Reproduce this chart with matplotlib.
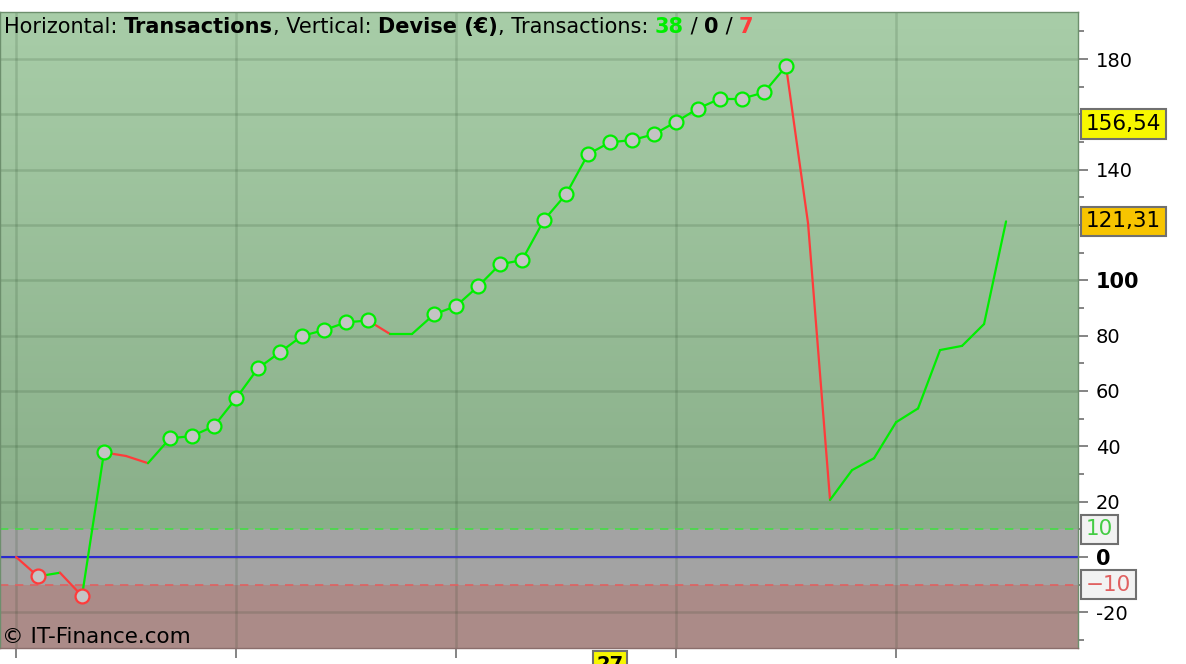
import numpy as np
import matplotlib.pyplot as plt
from matplotlib import transforms

# equity curve of the transactions (EUR)
trade_no = np.arange(0, 46)
equity = [0, -7.0, -5.7, -14.1, 37.8, 36.5, 33.9, 42.9, 43.7, 47.3,
          57.3, 68.2, 74.0, 79.9, 82.0, 84.8, 85.5, 80.6, 80.6, 87.7,
          90.7, 97.8, 105.8, 107.3, 121.8, 131.1, 145.6, 149.9, 150.7, 152.8,
          157.3, 162.1, 165.7, 165.7, 167.9, 177.4, 120.6, 20.6, 31.4, 35.7,
          48.7, 53.7, 74.8, 76.3, 84.2, 121.31]
# trades drawn with a circle marker
marked = [1, 3, 4, 7, 8, 9, 10, 11, 12, 13, 14, 15, 16,
          19, 20, 21, 22, 23, 24, 25, 26, 27, 28, 29, 30, 31, 32, 33, 34, 35]

n_win, n_even, n_loss = 38, 0, 7
level_avg = 156.54
level_last = 121.31
x_marker = 27
upper_band, lower_band = 10, -10

ytick_vals = np.arange(-20, 200, 20)
ytick_labels = ['-20', '0', '20', '40', '60', '80', '100', '', '140', '', '180']

green = '#00ee00'
red = '#ff3b3b'

fig = plt.figure(figsize=(11.86, 6.64), dpi=100)
ax = fig.add_axes([0, 16.3/664, 1078/1186, 635.7/664])

xmin, xmax = -0.727, 48.27
ymin, ymax = -32.8, 197
ax.set_xlim(xmin, xmax)
ax.set_ylim(ymin, ymax)

# background zones
top_c = np.array([168, 205, 168]) / 255
bot_c = np.array([137, 175, 137]) / 255
t = np.linspace(0, 1, 256)[:, None]
grad = (top_c * (1 - t) + bot_c * t)[:, None, :]
ax.imshow(grad, extent=(xmin, xmax, upper_band, ymax), aspect='auto', zorder=0)
ax.axhspan(lower_band, upper_band, color='#a3a3a3', zorder=0, lw=0)
ax.axhspan(ymin, lower_band, color='#ab8b88', zorder=0, lw=0)

# grid
for gx in range(0, 50, 10):
    ax.axvline(gx, color='#1a3a1a', alpha=0.15, lw=1.8, zorder=1)
for gy in ytick_vals:
    ax.axhline(gy, color='#1a3a1a', alpha=0.15, lw=1.8, zorder=1)

ax.axhline(0, color='#2a2ad0', lw=1.5, zorder=2)
ax.axhline(upper_band, color='#44dd44', lw=1.2, ls=(0, (5, 4)), zorder=2)
ax.axhline(lower_band, color='#e06060', lw=1.2, ls=(0, (5, 4)), zorder=2)

# equity line, coloured by direction
for i in range(len(equity) - 1):
    c = red if equity[i + 1] < equity[i] else green
    ax.plot(trade_no[i:i + 2], equity[i:i + 2], color=c, lw=1.6, zorder=3,
            solid_capstyle='round')

for i in marked:
    ec = red if equity[i] < 0 else green
    ax.plot(trade_no[i], equity[i], 'o', ms=10, mfc='#c4c4c4', mec=ec,
            mew=1.6, zorder=4)

# axes styling
for s in ax.spines.values():
    s.set_color('#6d8f6d')
    s.set_linewidth(1.0)
ax.spines['bottom'].set_color('#8a6e6c')

ax.yaxis.tick_right()
ax.set_yticks(ytick_vals)
ax.set_yticklabels(ytick_labels)
ax.set_yticks(np.arange(-30, 200, 20), minor=True)
ax.tick_params(axis='y', which='major', length=7, width=1.2, color='#707070',
               labelsize=14, pad=6)
ax.tick_params(axis='y', which='minor', length=4, width=1.2, color='#707070')
for lab in ax.get_yticklabels():
    if lab.get_text() in ('0', '100'):
        lab.set_fontweight('bold')
        lab.set_fontsize(15)

ax.set_xticks(range(0, 50, 10))
ax.tick_params(axis='x', length=7, width=1.2, color='#707070', labelsize=14, pad=4)

# value boxes on the right
ry = transforms.blended_transform_factory(ax.transAxes, ax.transData)
xb = 1 + 8 / 1078
box_kw = dict(ha='left', va='center', fontsize=15.5, transform=ry, clip_on=False, zorder=6)
ax.text(xb, level_avg, f'{level_avg:.2f}'.replace('.', ','), color='black',
        bbox=dict(boxstyle='square,pad=0.22', fc='#f7f700', ec='#707070', lw=1.5), **box_kw)
ax.text(xb, level_last, f'{level_last:.2f}'.replace('.', ','), color='black',
        bbox=dict(boxstyle='square,pad=0.22', fc='#f7c400', ec='#707070', lw=1.5), **box_kw)
ax.text(xb, upper_band, str(upper_band), color='#44cc44',
        bbox=dict(boxstyle='square,pad=0.22', fc='#f2f2f2', ec='#707070', lw=1.5), **box_kw)
ax.text(xb, lower_band, '\u2212' + str(abs(lower_band)), color='#e06060',
        bbox=dict(boxstyle='square,pad=0.22', fc='#f2f2f2', ec='#707070', lw=1.5), **box_kw)

# bottom marker box
bx = transforms.blended_transform_factory(ax.transData, ax.transAxes)
ax.text(x_marker, -0.012, str(x_marker), ha='center', va='top', fontsize=14,
        fontweight='bold', transform=bx, clip_on=False, zorder=6,
        bbox=dict(boxstyle='square,pad=0.2', fc='#f7f700', ec='#707070', lw=1.5))

# header text made of coloured / bold pieces
pieces = [('Horizontal: ', 'normal', 'black'), ('Transactions', 'bold', 'black'),
          (', Vertical: ', 'normal', 'black'), ('Devise (€)', 'bold', 'black'),
          (', Transactions: ', 'normal', 'black'), (str(n_win), 'bold', '#00ee00'),
          (' / ', 'normal', 'black'), (str(n_even), 'bold', 'black'),
          (' / ', 'normal', 'black'), (str(n_loss), 'bold', '#ff3b3b')]
prev = ax.text(4 / 1078, 1 - 21 / 636, pieces[0][0], transform=ax.transAxes,
               fontsize=15, fontweight=pieces[0][1], color=pieces[0][2],
               ha='left', va='baseline', zorder=7)
for txt, w, c in pieces[1:]:
    prev = ax.annotate(txt, xy=(1, 0), xycoords=prev, fontsize=15,
                       fontweight=w, color=c, ha='left', va='bottom', zorder=7)

ax.text(2 / 1078, 5 / 636, '© IT-Finance.com', transform=ax.transAxes,
        fontsize=15.5, ha='left', va='baseline', zorder=7)

fig.savefig('out.png', dpi=100)
